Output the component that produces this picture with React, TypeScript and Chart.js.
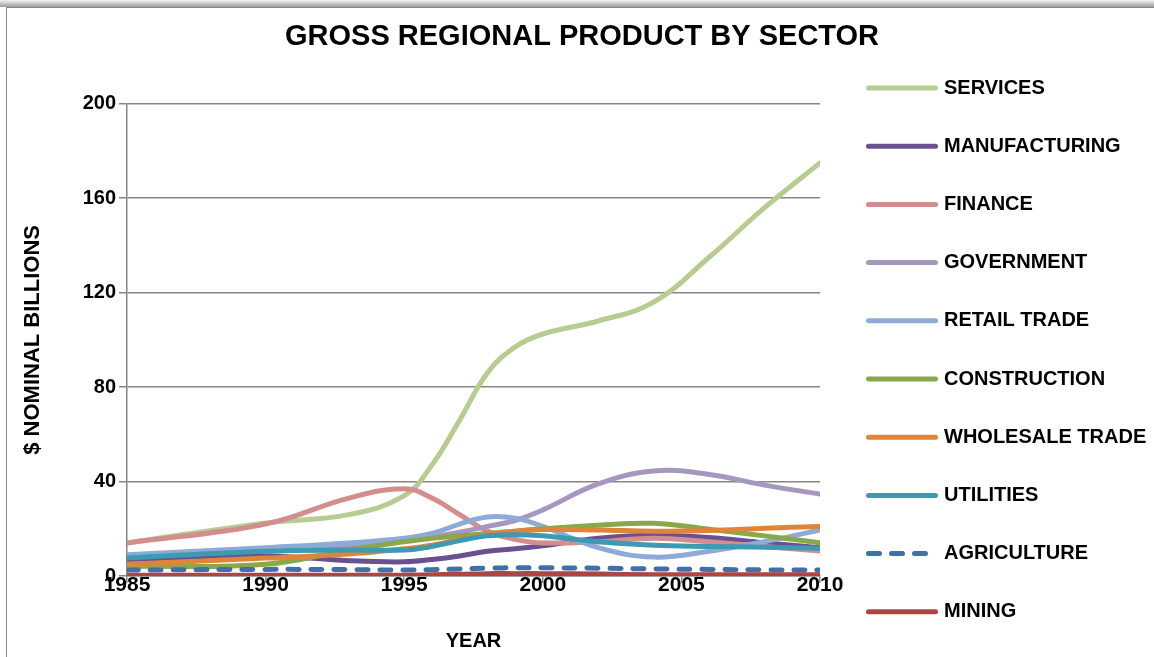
import React, { useEffect, useRef } from "react";
import { Chart, registerables } from "chart.js";

Chart.register(...registerables);

// ---- data ----
const YEARS = [1985, 1990, 1993, 1995, 1996, 1997, 1998, 1999, 2000, 2002, 2004, 2006, 2008, 2010];

const SERVICES = [14, 22.5, 26, 34, 47, 66, 86, 97, 102.5, 108, 116, 135, 156, 175];
const MANUFACTURING = [7, 8.5, 6.5, 6, 7, 8.5, 10.5, 11.5, 12.8, 16, 17.3, 16.3, 14, 12];
const FINANCE = [14, 22, 33, 37, 33, 26, 19, 15.5, 14, 14.5, 16, 14.5, 12.5, 10.6];
const GOVERNMENT = [8.5, 11, 13, 15, 16.5, 18.5, 21, 23.5, 28, 39, 44.5, 43, 38.5, 34.7];
const RETAIL_TRADE = [9, 12, 14, 16, 18, 22, 25, 24.5, 21, 12, 8, 10.5, 14.5, 19.5];
const CONSTRUCTION = [4, 5, 11, 14.5, 16, 17, 18, 19, 20, 21.5, 22.3, 19.8, 17, 14.1];
const WHOLESALE_TRADE = [5, 7.6, 9.3, 11.5, 13, 15.5, 17.5, 19, 19.7, 19.5, 19, 19.3, 20.2, 21];
const UTILITIES = [7.6, 10.5, 11, 11, 12.5, 15, 17, 17.5, 17, 14.5, 13, 12.5, 12.2, 11.8];
const AGRICULTURE = [2.5, 2.8, 2.7, 2.5, 2.7, 3, 3.3, 3.5, 3.5, 3.3, 3, 2.8, 2.6, 2.5];
const MINING = [0.3, 0.3, 0.3, 0.3, 0.5, 0.7, 1, 1, 1, 0.8, 0.5, 0.5, 0.5, 0.5];

const SERIES_NAMES = [
  "SERVICES",
  "MANUFACTURING",
  "FINANCE",
  "GOVERNMENT",
  "RETAIL TRADE",
  "CONSTRUCTION",
  "WHOLESALE TRADE",
  "UTILITIES",
  "AGRICULTURE",
  "MINING",
];
const SERIES_VALUES = [
  SERVICES,
  MANUFACTURING,
  FINANCE,
  GOVERNMENT,
  RETAIL_TRADE,
  CONSTRUCTION,
  WHOLESALE_TRADE,
  UTILITIES,
  AGRICULTURE,
  MINING,
];
const SERIES_COLORS = [
  "#b6cc90",
  "#6a5090",
  "#d48d8d",
  "#a697c0",
  "#8eaad6",
  "#89a84a",
  "#e0843a",
  "#3c9ab2",
  "#4170a8",
  "#b04443",
];

const TITLE = "GROSS REGIONAL PRODUCT BY SECTOR";
const X_TITLE = "YEAR";
const Y_TITLE = "$ NOMINAL BILLIONS";
const X_MIN = 1985;
const X_MAX = 2010;
const X_STEP = 5;
const Y_MIN = 0;
const Y_MAX = 200;
const Y_STEP = 40;

const FONT = "'Liberation Sans', Arial, sans-serif";
const GRID = "#868686";

export default function App() {
  const ref = useRef<HTMLCanvasElement>(null);

  useEffect(() => {
    if (!ref.current) return;
    const datasets = SERIES_NAMES.map((name, i) => ({
      label: name,
      data: YEARS.map((x, j) => ({ x, y: SERIES_VALUES[i][j] })),
      borderColor: SERIES_COLORS[i],
      backgroundColor: SERIES_COLORS[i],
      borderWidth: 5,
      borderDash: name === "AGRICULTURE" ? [11, 12] : [],
      borderCapStyle: "round" as const,
      borderJoinStyle: "round" as const,
      pointRadius: 0,
      pointHoverRadius: 0,
      tension: 0.4,
      fill: false,
      order: SERIES_NAMES.length - i,
    }));

    const sideLegend = {
      id: "sideLegend",
      afterDraw(chart: any) {
        const ctx = chart.ctx as CanvasRenderingContext2D;
        const area = chart.chartArea;
        const x0 = area.right + 48.5;
        const lineLen = 67;
        const y0 = 88;
        const step = 58.2;
        ctx.save();
        ctx.font = `bold 20px ${FONT}`;
        ctx.textBaseline = "middle";
        ctx.textAlign = "left";
        chart.data.datasets.forEach((ds: any, i: number) => {
          const y = y0 + i * step;
          ctx.beginPath();
          ctx.strokeStyle = ds.borderColor;
          ctx.lineWidth = ds.borderWidth;
          ctx.lineCap = "round";
          ctx.setLineDash(ds.borderDash || []);
          ctx.moveTo(x0, y);
          ctx.lineTo(x0 + lineLen, y);
          ctx.stroke();
          ctx.setLineDash([]);
          ctx.fillStyle = "#000";
          ctx.fillText(ds.label, x0 + lineLen + 8.5, y);
        });
        ctx.restore();
      },
    };

    const chart = new Chart(ref.current, {
      type: "line",
      data: { datasets },
      plugins: [sideLegend],
      options: {
        responsive: false,
        animation: false,
        layout: { padding: { left: 10, right: 0, top: 0, bottom: 0 } },
        plugins: {
          legend: { display: false },
          tooltip: { enabled: false },
          title: {
            display: true,
            text: TITLE,
            color: "#000",
            font: { family: FONT, size: 29, weight: "bold", lineHeight: 1.2 },
            padding: { top: 20, bottom: 49 },
          },
        },
        scales: {
          x: {
            type: "linear",
            min: X_MIN,
            max: X_MAX,
            ticks: {
              stepSize: X_STEP,
              color: "#000",
              font: { family: FONT, size: 21, weight: "bold" },
              padding: -10,
              callback: (v: any) => String(v),
            },
            grid: {
              display: true,
              drawOnChartArea: false,
              drawTicks: true,
              tickLength: 7,
              color: GRID,
              lineWidth: 1.5,
            },
            border: { display: true, color: GRID, width: 1.5 },
            title: {
              display: true,
              text: X_TITLE,
              color: "#000",
              font: { family: FONT, size: 20, weight: "bold", lineHeight: 1.2 },
              padding: { top: 0, bottom: 4 },
            },
            afterFit: (s: any) => {
              s.height = 81;
            },
          },
          y: {
            type: "linear",
            position: "left",
            min: Y_MIN,
            max: Y_MAX,
            ticks: {
              stepSize: Y_STEP,
              color: "#000",
              font: { family: FONT, size: 20, weight: "bold" },
              padding: 3,
              callback: (v: any) => String(v),
            },
            grid: {
              color: GRID,
              lineWidth: 1.5,
              drawTicks: true,
              tickLength: 8,
            },
            border: { display: true, color: GRID, width: 1.5 },
            title: {
              display: true,
              text: Y_TITLE,
              color: "#000",
              font: { family: FONT, size: 22, weight: "bold", lineHeight: 1.2 },
              padding: { top: 10, bottom: 0 },
            },
            afterFit: (s: any) => {
              s.width = 117;
            },
          },
          y2: {
            type: "linear",
            position: "right",
            display: true,
            grid: { display: false, drawTicks: false },
            ticks: { display: false },
            border: { display: false },
            afterFit: (s: any) => {
              s.width = 334;
            },
          },
        },
      },
    } as any);

    return () => chart.destroy();
  }, []);

  return (
    <div style={{ position: "fixed", inset: 0, background: "#fff", overflow: "hidden" }}>
      <div
        style={{
          position: "absolute",
          left: 0,
          top: 0,
          width: 1154,
          height: 7,
          background: "linear-gradient(#f4f4f4, #9a9a9a)",
        }}
      />
      <div
        style={{
          position: "absolute",
          left: 6,
          top: 7,
          width: 1200,
          height: 700,
          borderLeft: "1px solid #8a8a8a",
          borderTop: "1px solid #8a8a8a",
          background: "#fff",
        }}
      />
      <canvas
        ref={ref}
        width={1154}
        height={657}
        style={{ position: "absolute", left: 0, top: 0, width: 1154, height: 657 }}
      />
    </div>
  );
}
